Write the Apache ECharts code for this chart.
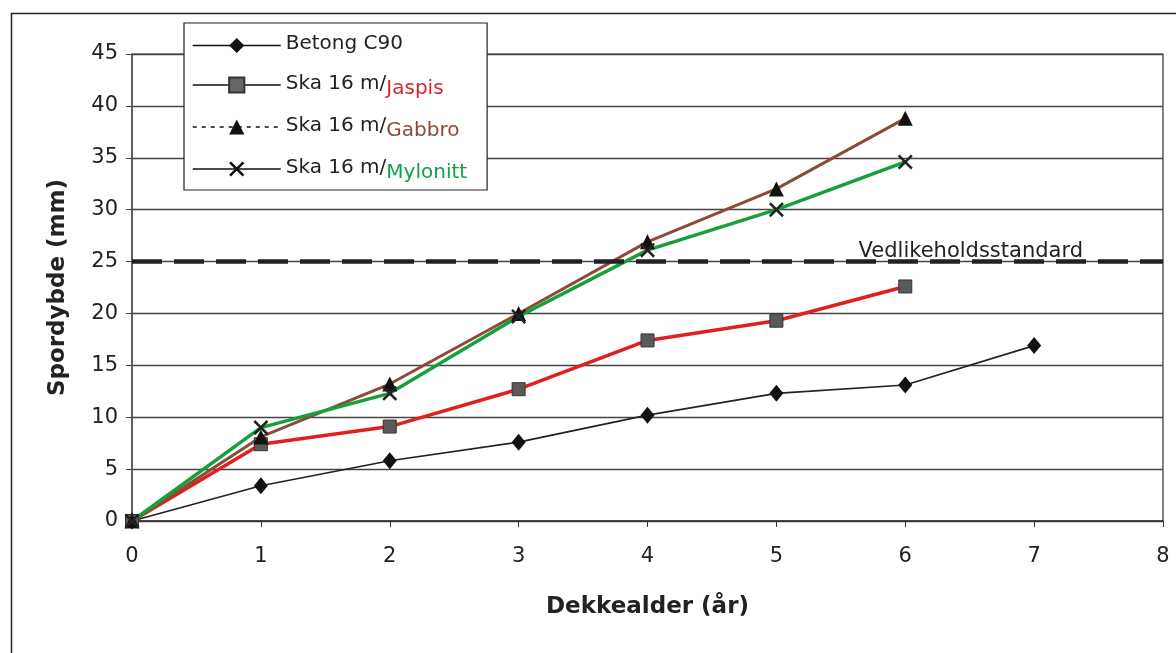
<!DOCTYPE html>
<html>
<head>
<meta charset="utf-8">
<script src="https://cdn.jsdelivr.net/npm/echarts@6/dist/echarts.min.js"></script>
<style>
html,body{margin:0;padding:0;background:#fff;}
#chart{width:1176px;height:653px;}
</style>
</head>
<body>
<div id="chart"></div>
<script>
// ---- data ----
const years = [0, 1, 2, 3, 4, 5, 6, 7];
const seriesNames = ['Betong C90', 'Ska 16 m/Jaspis', 'Ska 16 m/Gabbro', 'Ska 16 m/Mylonitt'];
const betong   = [0, 3.4, 5.8, 7.6, 10.2, 12.3, 13.1, 16.9];
const jaspis   = [0, 7.4, 9.1, 12.7, 17.4, 19.3, 22.6];
const gabbro   = [0, 8.1, 13.2, 20.0, 26.9, 32.0, 38.8];
const mylonitt = [0, 9.0, 12.3, 19.7, 26.1, 30.0, 34.6];
const standardValue = 25;
const standardLabel = 'Vedlikeholdsstandard';
const xTitle = 'Dekkealder (år)';
const yTitle = 'Spordybde (mm)';

const FONT = 'DejaVu Sans';
const pairs = arr => arr.map((v, i) => [years[i], v]);
const xPath = 'path://M0,1.2 L1.2,0 L5,3.8 L8.8,0 L10,1.2 L6.2,5 L10,8.8 L8.8,10 L5,6.2 L1.2,10 L0,8.8 L3.8,5 Z';

const chart = echarts.init(document.getElementById('chart'), null, {renderer: 'canvas'});
const option = {
  backgroundColor: '#fff',
  animation: false,
  graphic: [{
    type: 'rect', left: 9, top: 11, silent: true, z: -1,
    shape: {width: 1300, height: 800},
    style: {fill: 'none', stroke: '#222', lineWidth: 1.5}
  }],
  grid: {left: 132, right: 13, top: 54, bottom: 132, show: true, borderColor: '#333', borderWidth: 1.2, backgroundColor: 'transparent'},
  xAxis: {
    type: 'value', min: 0, max: 8, interval: 1,
    name: xTitle, nameLocation: 'middle', nameGap: 75,
    nameTextStyle: {fontFamily: FONT, fontSize: 23, fontWeight: 'bold', color: '#222'},
    axisLine: {show: true, onZero: false, lineStyle: {color: '#333', width: 1.5}},
    axisTick: {show: true, inside: false, length: 6, lineStyle: {color: '#333'}},
    axisLabel: {fontFamily: FONT, fontSize: 21, color: '#222', margin: 25},
    splitLine: {show: false}
  },
  yAxis: {
    type: 'value', min: 0, max: 45, interval: 5,
    name: yTitle, nameLocation: 'middle', nameGap: 62, nameRotate: 90,
    nameTextStyle: {fontFamily: FONT, fontSize: 23, fontWeight: 'bold', color: '#222'},
    axisLine: {show: true, lineStyle: {color: '#555', width: 1.5}},
    axisTick: {show: true, inside: false, length: 6, lineStyle: {color: '#444'}},
    axisLabel: {fontFamily: FONT, fontSize: 21, color: '#222', margin: 14},
    splitLine: {show: true, lineStyle: {color: '#444', width: 1.3}}
  },
  legend: {
    orient: 'vertical', left: 184, top: 23,
    padding: [11, 20, 7, 8],
    itemWidth: 88, itemHeight: 19, itemGap: 14,
    backgroundColor: '#fff', borderColor: '#222', borderWidth: 1.2, borderRadius: 0,
    z: 10,
    data: [
      {name: seriesNames[0], itemStyle: {color: '#111'}, lineStyle: {color: '#111', width: 1.5, type: 'solid'}},
      {name: seriesNames[1], itemStyle: {color: '#666'}, lineStyle: {color: '#111', width: 1.5, type: 'solid'}},
      {name: seriesNames[2], itemStyle: {color: '#111'}, lineStyle: {color: '#111', width: 1.5, type: [4, 5]}},
      {name: seriesNames[3], itemStyle: {color: '#111'}, lineStyle: {color: '#111', width: 1.5, type: 'solid'}}
    ],
    formatter: function (name) {
      if (name === seriesNames[0]) return '{a|' + name + '}';
      const base = 'Ska 16 m/';
      const rest = name.slice(base.length);
      const key = rest === 'Jaspis' ? 'r' : (rest === 'Gabbro' ? 'b' : 'g');
      return '{a|' + base + '}{' + key + '|' + rest + '}';
    },
    textStyle: {
      fontFamily: FONT, fontSize: 20, color: '#222',
      rich: {
        a: {fontFamily: FONT, fontSize: 20, color: '#222', lineHeight: 24, padding: [0, 0, 3, 0]},
        r: {fontFamily: FONT, fontSize: 20, color: '#d9262a', lineHeight: 24, padding: [8, 0, 0, 0]},
        b: {fontFamily: FONT, fontSize: 20, color: '#8b4a3a', lineHeight: 24, padding: [8, 0, 0, 0]},
        g: {fontFamily: FONT, fontSize: 20, color: '#12a04a', lineHeight: 24, padding: [8, 0, 0, 0]}
      }
    }
  },
  series: [
    {
      name: seriesNames[0], type: 'line', data: pairs(betong),
      symbol: 'diamond', symbolSize: [14, 17],
      itemStyle: {color: '#111'},
      lineStyle: {color: '#222', width: 1.6},
      markLine: {
        silent: true, symbol: 'none', animation: false,
        lineStyle: {color: '#222', width: 4.5, type: [30, 12]},
        label: {
          show: true, position: 'insideEndTop', formatter: standardLabel,
          fontFamily: FONT, fontSize: 21, color: '#222', padding: [0, 80, 0, 0], distance: 0
        },
        data: [[{coord: [0, standardValue]}, {coord: [8, standardValue]}]]
      }
    },
    {
      name: seriesNames[1], type: 'line', data: pairs(jaspis),
      symbol: 'rect', symbolSize: 13,
      itemStyle: {color: '#5a5a5a', borderColor: '#333', borderWidth: 1},
      lineStyle: {color: '#e0201c', width: 3.5}
    },
    {
      name: seriesNames[2], type: 'line', data: pairs(gabbro),
      symbol: 'triangle', symbolSize: 15,
      itemStyle: {color: '#111'},
      lineStyle: {color: '#8c4a38', width: 3}
    },
    {
      name: seriesNames[3], type: 'line', data: pairs(mylonitt),
      symbol: xPath, symbolSize: 15,
      itemStyle: {color: '#222'},
      lineStyle: {color: '#16a03c', width: 3.5}
    }
  ]
};
chart.setOption(option);
</script>
</body>
</html>
